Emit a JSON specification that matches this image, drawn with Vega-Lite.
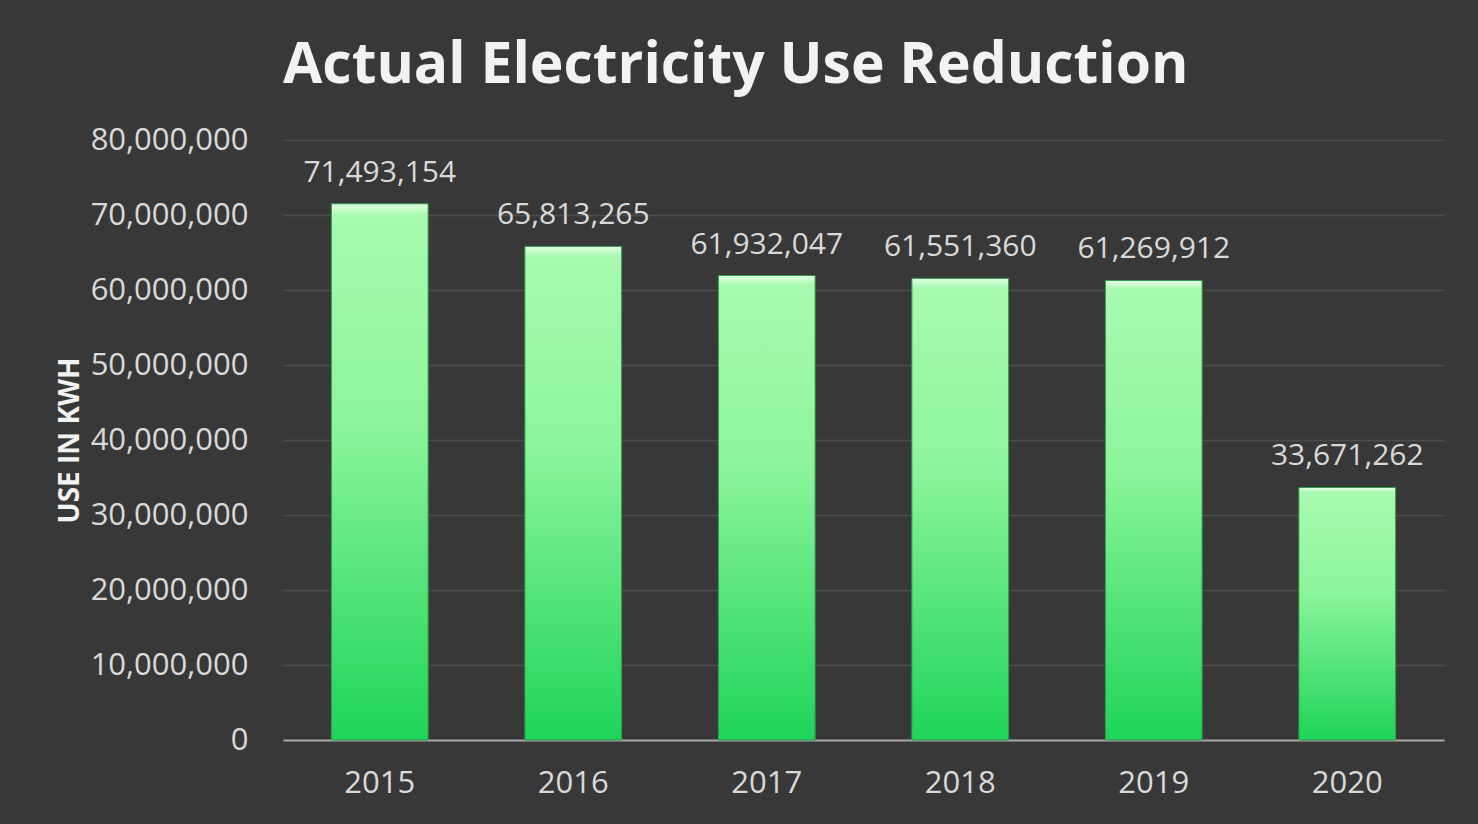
{
  "$schema": "https://vega.github.io/schema/vega-lite/v6.json",
  "width": 1161,
  "height": 600,
  "autosize": {"type": "none"},
  "padding": {"left": 283, "top": 140, "right": 34, "bottom": 84},
  "background": "#383838",
  "title": {
    "text": "Actual Electricity Use Reduction",
    "anchor": "start",
    "frame": "group",
    "font": "Open Sans",
    "fontWeight": "bold",
    "fontSize": 57,
    "color": "#f2f2f2",
    "offset": 29
  },
  "data": {
    "values": [
      {"year": "2015", "use": 71493154},
      {"year": "2016", "use": 65813265},
      {"year": "2017", "use": 61932047},
      {"year": "2018", "use": 61551360},
      {"year": "2019", "use": 61269912},
      {"year": "2020", "use": 33671262}
    ]
  },
  "config": {
    "view": {"stroke": null},
    "axis": {
      "labelFont": "Open Sans",
      "labelFontSize": 31,
      "labelColor": "#d9d9d9",
      "titleFont": "Open Sans",
      "titleColor": "#f2f2f2"
    }
  },
  "encoding": {
    "x": {
      "field": "year",
      "type": "nominal",
      "scale": {"paddingInner": 0.5, "paddingOuter": 0.25},
      "axis": {
        "title": null,
        "labelAngle": 0,
        "ticks": false,
        "labelPadding": 28,
        "domainColor": "#a6a6a6",
        "domainWidth": 2,
        "grid": false
      }
    },
    "y": {
      "field": "use",
      "type": "quantitative",
      "scale": {"domain": [0, 80000000], "nice": false},
      "axis": {
        "title": "USE IN KWH",
        "titleFontSize": 28,
        "titleFontWeight": "bold",
        "titlePadding": 6,
        "values": [0, 10000000, 20000000, 30000000, 40000000, 50000000, 60000000, 70000000, 80000000],
        "format": ",d",
        "ticks": false,
        "domain": false,
        "labelPadding": 35,
        "gridColor": "#4d4d4d",
        "gridWidth": 1.5
      }
    }
  },
  "layer": [
    {
      "mark": {
        "type": "bar",
        "stroke": "#2f9a4a",
        "strokeWidth": 1,
        "color": {
          "gradient": "linear",
          "x1": 0, "y1": 0, "x2": 0, "y2": 1,
          "stops": [
            {"offset": 0, "color": "#e6ffe8"},
            {"offset": 0.02, "color": "#a8fab0"},
            {"offset": 0.4, "color": "#8ef59c"},
            {"offset": 1, "color": "#1ed45a"}
          ]
        }
      }
    },
    {
      "mark": {
        "type": "text",
        "font": "Open Sans",
        "fontSize": 30,
        "color": "#d9d9d9",
        "baseline": "alphabetic",
        "dy": -22
      },
      "encoding": {
        "text": {"field": "use", "type": "quantitative", "format": ",d"}
      }
    }
  ]
}
